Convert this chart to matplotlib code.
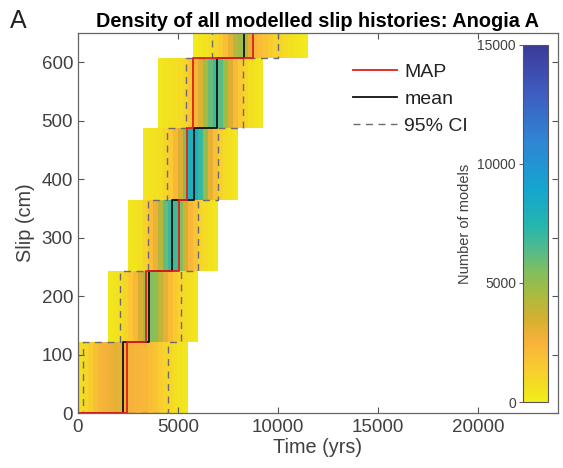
import numpy as np
import matplotlib.pyplot as plt
from matplotlib.colors import LinearSegmentedColormap

plt.rcParams['font.family'] = ['Liberation Sans', 'DejaVu Sans']

# slip at each step boundary (cm)
slip_levels = [0, 122, 243, 365, 487, 608, 730]

# time histogram per slip step: first bin start (yrs) and counts per 250-yr bin
bin_width = 250
band_starts = [0, 1500, 2500, 3250, 4000, 5750]
band1_counts = [700, 900, 1300, 1900, 2400, 2600, 2800, 3100, 3000, 2800, 2600,
                2500, 2400, 2300, 2000, 1700, 1400, 1100, 900, 700, 500, 300]
band2_counts = [300, 500, 700, 1100, 1600, 2300, 3400, 4800, 5400, 5200, 4000,
                3000, 2100, 1500, 1100, 800, 600, 400]
band3_counts = [400, 500, 700, 1200, 2000, 2800, 4200, 6000, 7000, 6800, 5600,
                3500, 2400, 1700, 1100, 800, 600, 300]
band4_counts = [300, 500, 600, 700, 1000, 1500, 2300, 3300, 5500, 8000, 8300,
                7000, 5000, 3000, 1900, 1200, 800, 600, 350]
band5_counts = [300, 500, 600, 650, 800, 1100, 1600, 2300, 3200, 4600, 6000,
                6800, 6300, 4800, 3300, 2200, 1500, 1000, 700, 500, 300]
band6_counts = [150, 300, 500, 700, 900, 1400, 2000, 3000, 4200, 4700, 4200,
                3000, 2400, 2100, 1800, 1500, 1200, 1000, 800, 600, 400, 300, 200]
band_counts = [band1_counts, band2_counts, band3_counts,
               band4_counts, band5_counts, band6_counts]

# event times of the summary histories (yrs)
map_times = [2430, 3400, 5070, 5430, 5730, 8730]
mean_times = [2270, 3530, 4680, 5820, 6970, 8300]
ci_low_times = [230, 2100, 3480, 4430, 5380, 6720]
ci_high_times = [4520, 5150, 5980, 6980, 8230, 10020]

# parula-like colours, low counts yellow -> high counts dark blue
cmap_pts = [(0.0, '#f2ee1c'), (0.033, '#f2e21f'), (0.1, '#fac932'),
            (0.167, '#f7b23a'), (0.233, '#d4b030'), (0.3, '#a8bb40'),
            (0.367, '#80be60'), (0.433, '#4cbb90'), (0.5, '#22b5b0'),
            (0.6, '#14a5d0'), (0.733, '#2f85d4'), (0.867, '#3e5cc0'),
            (1.0, '#3c3a99')]
cmap = LinearSegmentedColormap.from_list('parula_r', cmap_pts)
cmap.set_bad('white')


def step_path(times):
    xs = np.concatenate([[0], np.repeat(times, 2)])
    ys = np.concatenate([[0, 0], np.repeat(slip_levels[1:-1], 2), [slip_levels[-1]]])
    return xs, ys


# assemble the density grid
t_edges = np.arange(0, 12000 + bin_width, bin_width)
grid = np.full((len(slip_levels) - 1, len(t_edges) - 1), np.nan)
for i, (start, counts) in enumerate(zip(band_starts, band_counts)):
    j0 = start // bin_width
    grid[i, j0:j0 + len(counts)] = counts

fig = plt.figure(figsize=(5.63, 4.68), dpi=100)
ax = fig.add_axes([0.1385, 0.1175, 0.8525, 0.812])

mesh = ax.pcolormesh(t_edges, slip_levels, grid, cmap=cmap, vmin=0, vmax=15000)

ci_col = '#6a6a70'
x, y = step_path(ci_low_times)
ax.plot(x, y, color=ci_col, ls=(0, (5, 4)), lw=1.0, label='95% CI')
x, y = step_path(ci_high_times)
ax.plot(x, y, color=ci_col, ls=(0, (5, 4)), lw=1.0)
x, y = step_path(mean_times)
ax.plot(x, y, color='#111111', lw=1.3, label='mean')
x, y = step_path(map_times)
ax.plot(x, y, color='#e01e1e', lw=1.3, label='MAP')

ax.set_xlim(0, 24000)
ax.set_ylim(0, 650)
ax.set_xticks([0, 5000, 10000, 15000, 20000])
ax.set_yticks(np.arange(0, 700, 100))
ax.tick_params(direction='in', top=True, right=True, length=4, width=0.8,
               color='#555555', labelcolor='#404040', labelsize=13.5)
ax.tick_params(axis='x', pad=4)
for sp in ax.spines.values():
    sp.set_color('#666666')
    sp.set_linewidth(0.9)

ax.set_xlabel('Time (yrs)', fontsize=14.3, color='#404040', labelpad=2)
ax.set_ylabel('Slip (cm)', fontsize=14.3, color='#404040', labelpad=5)
ax.set_title('Density of all modelled slip histories: Anogia A',
             fontsize=14.3, fontweight='bold', pad=4)
fig.text(0.018, 0.955, 'A', fontsize=18, color='#222222', va='center')

handles, labels = ax.get_legend_handles_labels()
ax.legend(handles[::-1], labels[::-1], loc='upper left',
          bbox_to_anchor=(0.536, 0.966), frameon=False, fontsize=14,
          handlelength=2.3, handletextpad=0.36, labelspacing=0.48,
          labelcolor='#222222')

cax = fig.add_axes([0.929, 0.141, 0.0444, 0.763])
cbar = fig.colorbar(mesh, cax=cax, ticks=[0, 5000, 10000, 15000])
cax.yaxis.set_ticks_position('left')
cax.yaxis.set_label_position('left')
cax.tick_params(length=3, width=0.7, color='#555555', labelcolor='#404040',
                labelsize=10, pad=2)
cbar.outline.set_edgecolor('#555555')
cbar.outline.set_linewidth(0.8)
cbar.set_label('Number of models', fontsize=10.5, color='#404040', labelpad=4)

fig.savefig('out.png', dpi=100)
